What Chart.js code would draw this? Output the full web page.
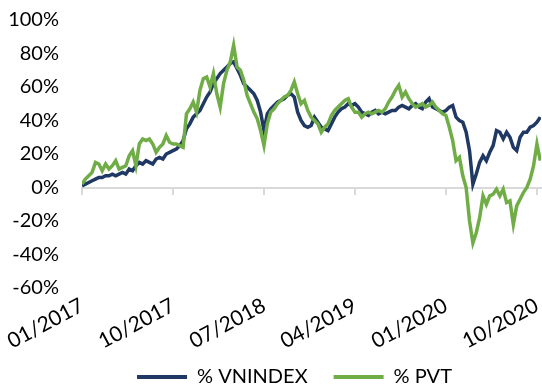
<!DOCTYPE html>
<html>
<head>
<meta charset="utf-8">
<script src="https://cdn.jsdelivr.net/npm/chart.js@4/dist/chart.umd.min.js"></script>
<style>
  html, body { margin: 0; padding: 0; background: #fff; }
  #wrap { width: 542px; height: 389px; }
</style>
</head>
<body>
<div id="wrap"><canvas id="canvas"></canvas></div>
<script>
// one point every third of a month, starting 01/2017
let stepMonths = 1 / 3;
let tickLabels = ["01/2017", "10/2017", "07/2018", "04/2019", "01/2020", "10/2020"];
let seriesNames = ["% VNINDEX", "% PVT"];

let vnindex = [
  1, 2, 3, 4, 5, 6, 6, 7, 7, 8, 7, 8, 9, 8, 11, 10, 13, 15, 14, 16,
  15, 14, 17, 18, 17, 20, 21, 22, 23, 25, 28, 35, 38, 42, 44, 46, 50, 54, 57, 62,
  65, 68, 70, 72, 74, 75, 71, 67, 62, 60, 58, 56, 52, 45, 34, 44, 47, 49, 51, 52,
  53, 55, 56, 54, 45, 40, 37, 36, 37, 42, 39, 36, 35, 34, 38, 42, 45, 47, 48, 50,
  49, 50, 48, 45, 44, 43, 45, 46, 44, 45, 44, 45, 46, 46, 48, 49, 48, 47, 49, 50,
  48, 47, 51, 53, 48, 47, 46, 45, 46, 48, 49, 42, 40, 39, 33, 22, 2, 8, 15, 19,
  16, 21, 25, 34, 33, 29, 33, 30, 24, 22, 30, 33, 33, 36, 37, 39, 42
];

let pvt = [
  2, 5, 7, 9, 15, 14, 10, 14, 11, 13, 16, 11, 12, 13, 19, 22, 13, 26, 29, 28,
  29, 26, 21, 24, 26, 31, 27, 26, 26, 25, 24, 44, 47, 51, 45, 58, 65, 66, 60, 68,
  56, 48, 62, 70, 75, 85, 72, 70, 64, 55, 50, 45, 41, 34, 25, 38, 45, 47, 50, 52,
  54, 55, 58, 63, 56, 50, 52, 46, 42, 40, 38, 33, 36, 38, 43, 46, 48, 50, 52, 53,
  48, 45, 45, 42, 44, 45, 44, 45, 46, 45, 47, 51, 54, 58, 61, 54, 57, 53, 50, 48,
  49, 50, 48, 49, 51, 48, 46, 44, 43, 36, 28, 16, 18, 7, 0, -20, -33, -27, -18, -5,
  -10, -5, -4, -1, -5, -1, -9, -8, -22, -11, -7, -3, 0, 5, 13, 26, 16
];

let navy = "#1f3864";
let green = "#70ad47";
let font = "Lato";

function toPoints(values) {
  return values.map((v, i) => ({ x: i * stepMonths, y: v }));
}

let lastX = (vnindex.length - 1) * stepMonths + 0.07;

// Excel puts the legend a bit right of centre, and the rotated
// date labels hang lower than their axis box
let layoutTweaks = {
  id: "layoutTweaks",
  afterLayout(chart) {
    chart.legend.left += 48;
    chart.scales.xl.bottom = chart.height;
  },
};

function noSidePadding(s) {
  s.paddingLeft = 0;
  s.paddingRight = 0;
}

let myChart = new Chart(document.getElementById("canvas").getContext("2d"), {
  type: "line",
  data: {
    datasets: [
      {
        label: seriesNames[0],
        data: toPoints(vnindex),
        borderColor: navy,
        backgroundColor: navy,
        borderWidth: 3.5,
        pointRadius: 0,
        tension: 0,
        order: 1,
      },
      {
        label: seriesNames[1],
        data: toPoints(pvt),
        borderColor: green,
        backgroundColor: green,
        borderWidth: 3.5,
        pointRadius: 0,
        tension: 0,
        order: 0,
      },
    ],
  },
  plugins: [layoutTweaks],
  options: {
    responsive: true,
    maintainAspectRatio: false,
    animation: false,
    layout: {
      padding: { left: 0, right: 1, top: 20, bottom: -8 },
    },
    plugins: {
      tooltip: { enabled: false },
      legend: {
        position: "bottom",
        labels: {
          color: "#000",
          font: { family: font, size: 20 },
          boxWidth: 50,
          boxHeight: 4,
          padding: 26,
          sort: (a, b) => a.datasetIndex - b.datasetIndex,
          generateLabels: (chart) => {
            let items = Chart.defaults.plugins.legend.labels.generateLabels(chart);
            items.forEach((it) => {
              it.fillStyle = it.strokeStyle;
              it.lineWidth = 0;
            });
            return items;
          },
        },
      },
    },
    scales: {
      x: {
        type: "linear",
        position: { y: 0 },
        min: 0,
        max: lastX,
        ticks: { display: false, stepSize: 9, includeBounds: false },
        grid: {
          drawOnChartArea: false,
          drawTicks: true,
          tickLength: 6,
          color: "#d9d9d9",
          lineWidth: 2,
        },
        border: { color: "#d9d9d9", width: 2 },
        afterFit: noSidePadding,
      },
      xl: {
        type: "linear",
        position: "bottom",
        min: 0,
        max: lastX,
        ticks: {
          stepSize: 9,
          includeBounds: false,
          autoSkip: false,
          minRotation: 28,
          maxRotation: 28,
          padding: 5,
          color: "#000",
          font: { family: font, size: 21 },
          callback: (v) => tickLabels[Math.round(v / 9)],
        },
        grid: { display: false, drawTicks: false },
        border: { display: false },
        afterFit: (s) => {
          noSidePadding(s);
          s.height = 53;
        },
      },
      y: {
        min: -60,
        max: 100,
        ticks: {
          stepSize: 20,
          autoSkip: false,
          padding: 23,
          color: "#000",
          font: { family: font, size: 20 },
          callback: (v) => v + "%",
        },
        grid: { display: false, drawTicks: false },
        border: { display: false },
        afterFit: (s) => {
          s.width = 82;
          s.paddingTop = 0;
          s.paddingBottom = 0;
        },
      },
    },
  },
});
</script>
</body>
</html>
